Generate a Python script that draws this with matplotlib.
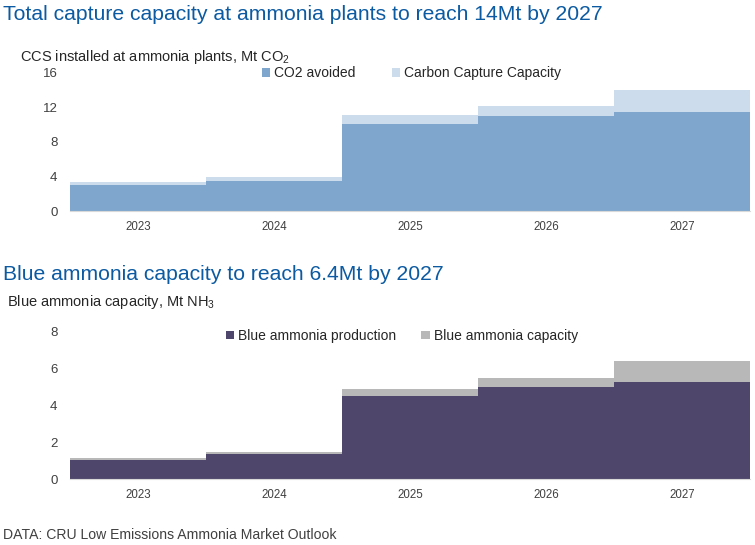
import matplotlib
matplotlib.use('Agg')
import matplotlib.pyplot as plt
import numpy as np

plt.rcParams['font.family'] = ['Liberation Sans', 'DejaVu Sans']
plt.rcParams['mathtext.fontset'] = 'custom'
plt.rcParams['mathtext.rm'] = 'Liberation Sans'
plt.rcParams['mathtext.it'] = 'Liberation Sans'

# data
years = ['2023', '2024', '2025', '2026', '2027']
co2_avoided = [3.0, 3.5, 10.0, 11.0, 11.4]
capture_capacity = [3.4, 3.9, 11.1, 12.1, 14.0]
blue_production = [1.05, 1.35, 4.5, 5.0, 5.25]
blue_capacity = [1.15, 1.45, 4.9, 5.5, 6.4]

TITLE_COL = '#0b5aa2'
TEXT_COL = '#262626'
TICK_COL = '#404040'


def style_axis(ax, ymax, step):
	''' common axis look'''
	ax.set_xlim(-0.5, len(years) - 0.5)
	ax.set_ylim(0, ymax)
	ax.set_yticks(np.arange(0, ymax + 0.1, step))
	ax.set_xticks(np.arange(len(years)))
	ax.set_xticklabels(years)
	for s in ['top', 'right', 'left']:
		ax.spines[s].set_visible(False)
	ax.spines['bottom'].set_color('#d9d9d9')
	ax.tick_params(axis='both', length=0)
	ax.tick_params(axis='y', labelsize=9.5, labelcolor=TICK_COL, pad=9)
	ax.tick_params(axis='x', labelsize=8.3, labelcolor=TICK_COL, pad=7)


fig = plt.figure()
fig.set_size_inches(7.55, 5.45)

x = np.arange(len(years))

# top panel
ax1 = fig.add_axes([0.0927, 0.6123, 0.9007, 0.2550])
ax1.bar(x, capture_capacity, width=1.0, color='#ccdcec', label='Carbon Capture Capacity')
ax1.bar(x, co2_avoided, width=1.0, color='#7fa7cd', label='CO2 avoided')
style_axis(ax1, 16, 4)
h, l = ax1.get_legend_handles_labels()
ax1.legend(h[::-1], l[::-1], loc='center', bbox_to_anchor=(0.502, 0.995), ncol=2, frameon=False,
	fontsize=10, handlelength=0.6, handleheight=0.6, handletextpad=0.3, columnspacing=2.6,
	labelcolor=TEXT_COL)

# bottom panel
ax2 = fig.add_axes([0.0927, 0.1206, 0.9007, 0.2711])
ax2.bar(x, blue_capacity, width=1.0, color='#b8b8b8', label='Blue ammonia capacity')
ax2.bar(x, blue_production, width=1.0, color='#4e466b', label='Blue ammonia production')
style_axis(ax2, 8, 2)
h, l = ax2.get_legend_handles_labels()
ax2.legend(h[::-1], l[::-1], loc='center', bbox_to_anchor=(0.488, 0.97), ncol=2, frameon=False,
	fontsize=10, handlelength=0.6, handleheight=0.6, handletextpad=0.3, columnspacing=1.8,
	labelcolor=TEXT_COL)

# titles and labels
fig.text(0.004, 1 - 14 / 545, 'Total capture capacity at ammonia plants to reach 14Mt by 2027',
	fontsize=15.2, color=TITLE_COL, va='center', ha='left')
fig.text(0.026, 1 - 57 / 545, 'CCS installed at ammonia plants, Mt CO$_2$',
	fontsize=10.5, color=TEXT_COL, va='center', ha='left')
fig.text(0.004, 1 - 275 / 545, 'Blue ammonia capacity to reach 6.4Mt by 2027',
	fontsize=15.2, color=TITLE_COL, va='center', ha='left')
fig.text(0.009, 1 - 302 / 545, 'Blue ammonia capacity, Mt NH$_3$',
	fontsize=10.5, color=TEXT_COL, va='center', ha='left')
fig.text(0.004, 1 - 535 / 545, 'DATA: CRU Low Emissions Ammonia Market Outlook',
	fontsize=10.1, color=TICK_COL, va='center', ha='left')

plt.savefig('out.png', dpi=100)
plt.close()
